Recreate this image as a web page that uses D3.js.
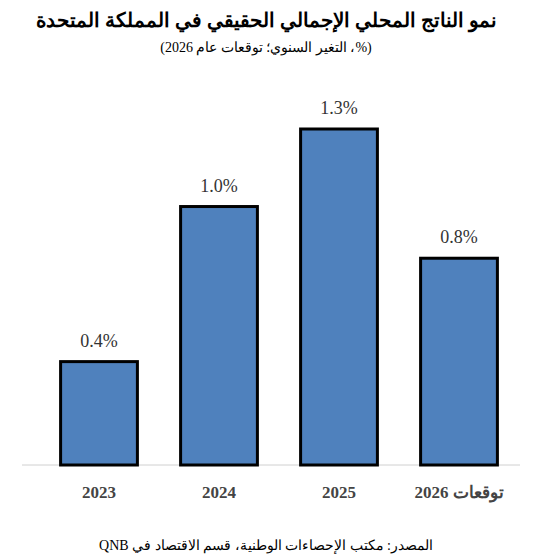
<!DOCTYPE html>
<html>
<head>
<meta charset="utf-8">
<script src="https://cdn.jsdelivr.net/npm/d3@7"></script>
<style>
  body { margin: 0; background: #fff; }
  text { font-family: "Liberation Serif", "DejaVu Serif", serif; }
</style>
</head>
<body>
<svg id="chart" width="533" height="559"></svg>
<script>
const categories = ['2023', '2024', '2025', 'توقعات 2026']
const values = [0.4, 1.0, 1.3, 0.8]
const valueLabels = ['0.4%', '1.0%', '1.3%', '0.8%']

const svg = d3.select('#chart')
const baseY = 465

const x = d3.scaleBand()
  .domain(categories)
  .range([39, 519])
  .paddingInner(0.36)
  .paddingOuter(0.18)

const y = d3.scaleLinear()
  .domain([0, 1.3])
  .range([baseY, 129])

svg.append('text')
  .attr('x', 266).attr('y', 27)
  .attr('text-anchor', 'middle')
  .attr('font-size', 20).attr('font-weight', 'bold')
  .attr('direction', 'rtl')
  .text('نمو الناتج المحلي الإجمالي الحقيقي في المملكة المتحدة')

svg.append('text')
  .attr('x', 266).attr('y', 52)
  .attr('text-anchor', 'middle')
  .attr('font-size', 14)
  .attr('direction', 'rtl')
  .text('(%، التغير السنوي؛ توقعات عام 2026)')

svg.append('line')
  .attr('x1', 22).attr('x2', 520)
  .attr('y1', baseY).attr('y2', baseY)
  .attr('stroke', '#d0d0d0').attr('stroke-width', 1)

svg.selectAll('rect.bar')
  .data(values)
  .enter()
  .append('rect')
  .attr('class', 'bar')
  .attr('x', (d, i) => x(categories[i]))
  .attr('y', d => y(d))
  .attr('width', x.bandwidth())
  .attr('height', d => baseY - y(d))
  .attr('fill', '#4f81bd')
  .attr('stroke', '#000')
  .attr('stroke-width', 3)

svg.selectAll('text.val')
  .data(values)
  .enter()
  .append('text')
  .attr('class', 'val')
  .attr('x', (d, i) => x(categories[i]) + x.bandwidth() / 2)
  .attr('y', d => y(d) - 15)
  .attr('text-anchor', 'middle')
  .attr('font-size', 18)
  .attr('fill', '#333')
  .text((d, i) => valueLabels[i])

svg.selectAll('text.cat')
  .data(categories)
  .enter()
  .append('text')
  .attr('class', 'cat')
  .attr('x', d => x(d) + x.bandwidth() / 2)
  .attr('y', 498)
  .attr('text-anchor', 'middle')
  .attr('font-size', 17).attr('font-weight', 'bold')
  .attr('fill', '#444')
  .attr('direction', 'rtl')
  .text(d => d)

svg.append('text')
  .attr('x', 266).attr('y', 550)
  .attr('text-anchor', 'middle')
  .attr('font-size', 14)
  .attr('direction', 'rtl')
  .text('المصدر: مكتب الإحصاءات الوطنية، قسم الاقتصاد في QNB')
</script>
</body>
</html>
